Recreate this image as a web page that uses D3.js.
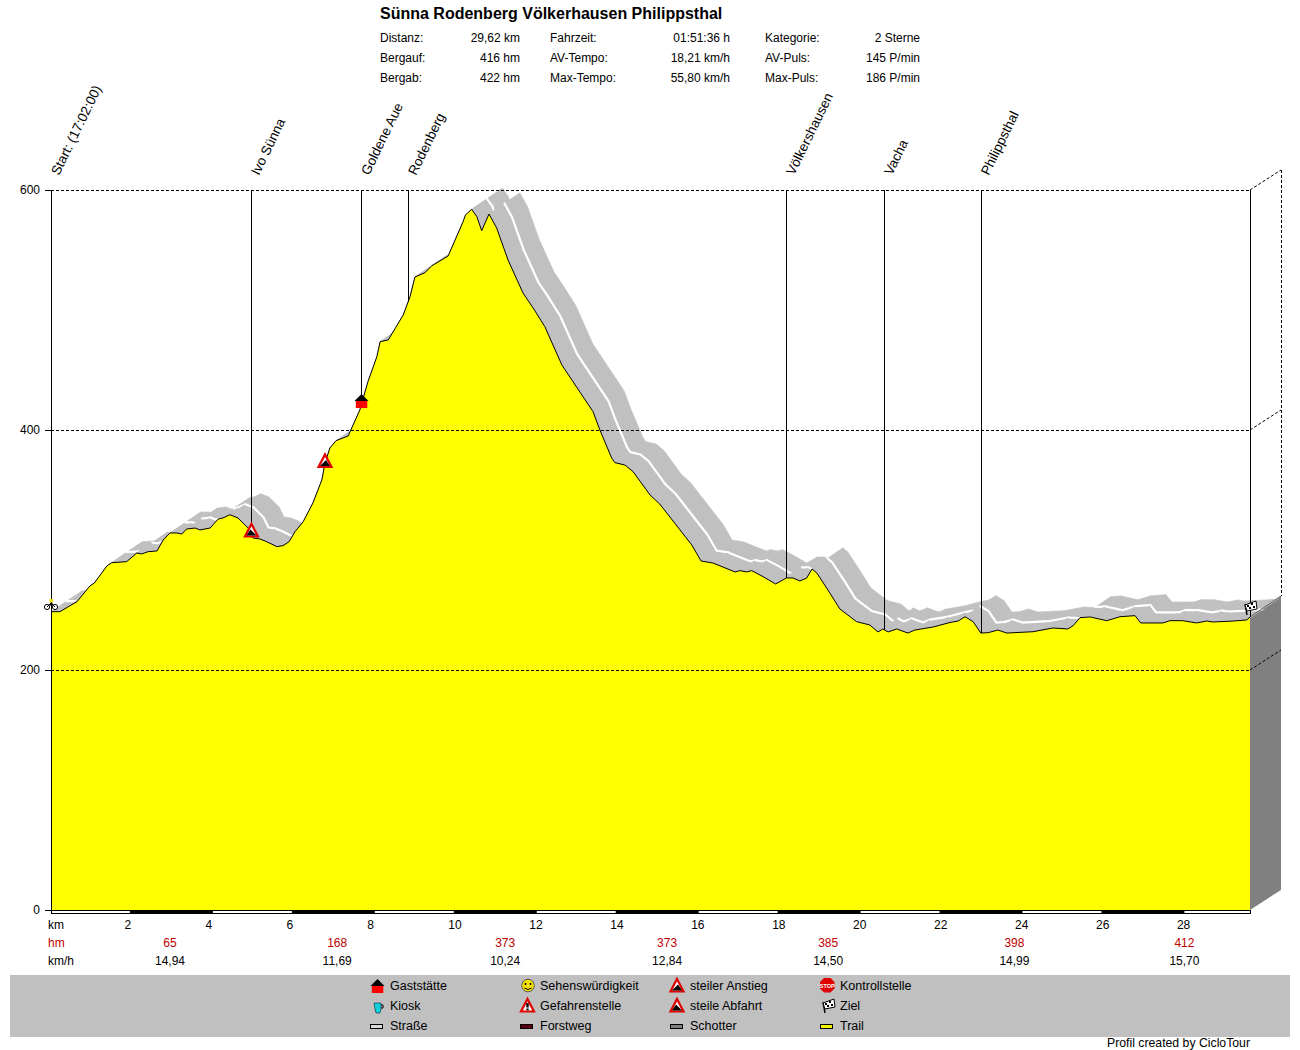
<!DOCTYPE html>
<html><head><meta charset="utf-8">
<script src="https://cdn.jsdelivr.net/npm/d3@7"></script>
<style>
html,body{margin:0;padding:0;background:#fff}
svg{display:block}
text{font-family:"Liberation Sans",Arial,sans-serif;font-size:12px;fill:#000}
</style></head><body><svg id="c" width="1300" height="1050"></svg>
<script>
const profileKm=[0,0.22,0.64,0.96,1.07,1.38,1.50,1.87,2.12,2.24,2.40,2.62,2.77,2.94,3.11,3.23,3.35,3.56,3.68,3.93,4.13,4.25,4.42,4.62,4.87,4.99,5.16,5.33,5.58,5.73,5.88,6.03,6.23,6.47,6.69,6.77,6.89,7.04,7.34,7.63,7.83,8.05,8.13,8.33,8.70,8.87,8.99,9.24,9.40,9.81,10.18,10.24,10.39,10.52,10.64,10.82,11.01,11.29,11.66,11.91,12.20,12.62,13.39,13.56,13.85,13.93,14.18,14.38,14.80,15.04,15.54,15.83,16.06,16.35,16.90,17.02,17.19,17.31,17.59,17.90,18.17,18.33,18.50,18.67,18.80,18.92,19.24,19.49,19.90,20.23,20.43,20.55,20.68,20.89,21.17,21.34,21.79,22.21,22.41,22.58,22.78,22.97,23.15,23.39,23.61,24.26,24.75,25.12,25.25,25.42,25.67,26.08,26.41,26.78,26.92,27.47,27.64,27.96,28.30,28.55,28.71,29.20,29.54,29.62];
const profileElev=[248.6,248.6,256.9,270,272.5,286.7,289.4,290.3,297.5,296.7,298.6,299.2,308.3,314.2,314.2,313.3,317.5,318.3,316.7,318.3,325.8,326.7,329.4,326.7,318.3,310,309.2,306.9,302.8,303.6,306.9,315.3,323.6,339.2,358.3,372.5,385,391.1,395,416.7,440.3,461.1,473.6,475,495.8,511.1,527.5,531.1,536.7,545,573.6,579.2,583.9,577.8,566.1,580,568.3,541.7,514.2,501.7,486.1,454.2,415.3,400,376.7,372.8,370.8,365.3,345.8,338.3,316.7,304.2,290.8,289.2,281.7,282.8,281.7,282.8,277.8,271.7,276.7,276.7,274.2,276.7,284.2,280.8,264.2,250.8,240.3,237.5,231.7,234.2,231.7,234.2,230.8,233.3,235.8,239.6,240.8,244.4,240.3,230.8,231.1,233.3,230.8,231.9,235,234.2,236.9,243.6,244.2,241.1,244.4,245.3,239.2,239.2,241.1,241.1,239.2,240.8,240,240.8,241.7,244.2];
const waypointNames=["Ivo Sünna","Goldene Aue","Rodenberg","Völkershausen","Vacha","Philippsthal"];
const waypointKm=[4.94,7.66,8.82,18.16,20.58,22.97];
const elevationTicks=[0,200,400,600];
const kmTicks=[2,4,6,8,10,12,14,16,18,20,22,24,26,28];
const bandStartKm=[1.95,5.95,9.95,13.95,17.95,21.95,25.95];
const bandEndKm=[4,8,12,16,20,24,28];
const sectionKm=[2.94,7.07,11.22,15.22,19.2,23.8,28.0];
const sectionHm=["65","168","373","373","385","398","412"];
const sectionSpeed=["14,94","11,69","10,24","12,84","14,50","14,99","15,70"];
const statLabels1=["Distanz:","Bergauf:","Bergab:"];
const statValues1=["29,62 km","416 hm","422 hm"];
const statLabels2=["Fahrzeit:","AV-Tempo:","Max-Tempo:"];
const statValues2=["01:51:36 h","18,21 km/h","55,80 km/h"];
const statLabels3=["Kategorie:","AV-Puls:","Max-Puls:"];
const statValues3=["2 Sterne","145 P/min","186 P/min"];
const legendCol1=["Gaststätte","Kiosk","Straße"];
const legendCol2=["Sehenswürdigkeit","Gefahrenstelle","Forstweg"];
const legendCol3=["steiler Anstieg","steile Abfahrt","Schotter"];
const legendCol4=["Kontrollstelle","Ziel","Trail"];

const svg=d3.select("#c");
const x=d3.scaleLinear().domain([0,29.62]).range([51,1250]);
const y=d3.scaleLinear().domain([0,600]).range([910,190]);
const DX=31,DY=-21;
const pts=profileKm.map((k,i)=>[x(k),y(profileElev[i])]);
const elevAt=k=>d3.scaleLinear().domain(profileKm).range(profileElev)(k);
const dash="3,2";

function txt(g,s,px,py,anchor,opt={}){
  const t=g.append("text").attr("x",px).attr("y",py).attr("text-anchor",anchor||"start").text(s);
  if(opt.fill)t.style("fill",opt.fill);
  if(opt.size)t.style("font-size",opt.size+"px");
  if(opt.weight)t.style("font-weight",opt.weight);
  return t;
}

// header
const head=svg.append("g");
txt(head,"Sünna Rodenberg Völkerhausen Philippsthal",380,19,"start",{size:16,weight:"bold"});
[[statLabels1,statValues1,380,520],[statLabels2,statValues2,550,730],[statLabels3,statValues3,765,920]].forEach(([l,v,a,b])=>{
  l.forEach((s,i)=>{txt(head,s,a,42+i*20);txt(head,v[i],b,42+i*20,"end");});
});

// wall
const endX=x(29.62),endY=y(profileElev[profileElev.length-1]);
svg.append("polygon").attr("fill","#808080")
  .attr("points",[[endX,endY],[endX+DX,endY+DY],[endX+DX,y(0)-20],[endX,y(0)]].join(" "));

// ribbon, one segment at a time so later parts hide earlier ones
const ribbon=svg.append("g");
const segs=d3.pairs(pts);
const seg=ribbon.selectAll("g").data(segs).join("g");
seg.append("polygon").attr("fill","#c0c0c0").attr("stroke","#c0c0c0").attr("stroke-width",0.6)
  .attr("points",([a,b])=>[a,b,[b[0]+DX,b[1]+DY],[a[0]+DX,a[1]+DY]].join(" "));
// the centre line only shows on stretches that are not climbing steeply
seg.filter(([a,b])=>(a[1]-b[1])/(b[0]-a[0])<0.5)
  .append("line").attr("stroke","#fff").attr("stroke-width",2.2).attr("stroke-linecap","round")
  .attr("x1",([a])=>a[0]+DX/2).attr("y1",([a])=>a[1]+DY/2)
  .attr("x2",([,b])=>b[0]+DX/2).attr("y2",([,b])=>b[1]+DY/2);

// profile
const area=d3.area().x(d=>d[0]).y0(y(0)).y1(d=>d[1]);
svg.append("path").attr("d",area(pts)).attr("fill","#ffff00");
svg.append("path").attr("d",d3.line()(pts)).attr("fill","none").attr("stroke","#000").attr("stroke-width",1);

// grid and 3D edges
const grid=svg.append("g").attr("stroke","#000").attr("stroke-dasharray",dash).attr("shape-rendering","crispEdges");
elevationTicks.filter(v=>v>0).forEach(v=>{
  grid.append("line").attr("x1",51).attr("x2",endX).attr("y1",y(v)).attr("y2",y(v));
});
const diag=svg.append("g").attr("stroke","#000").attr("stroke-dasharray",dash);
elevationTicks.filter(v=>v>0).forEach(v=>{
  diag.append("line").attr("x1",endX).attr("y1",y(v)).attr("x2",endX+DX).attr("y2",y(v)-20);
});
grid.append("line").attr("x1",endX+DX).attr("x2",endX+DX).attr("y1",y(600)-20).attr("y2",endY+DY);
svg.append("line").attr("x1",endX).attr("y1",endY).attr("x2",endX+DX).attr("y2",endY+DY).attr("stroke","#333").attr("stroke-width",0.7);

// y axis
const yAxis=svg.append("g").attr("transform","translate(51,0)")
  .call(d3.axisLeft(y).tickValues(elevationTicks).tickSize(6).tickPadding(5).tickFormat(d3.format("d")));
yAxis.select(".domain").remove();
yAxis.selectAll("line").attr("stroke","#000").attr("shape-rendering","crispEdges");
yAxis.selectAll("text").style("font-size","12px").style("font-family",'"Liberation Sans",Arial,sans-serif');

// vertical lines
const v=svg.append("g").attr("stroke","#000").attr("shape-rendering","crispEdges");
v.append("line").attr("x1",51).attr("x2",51).attr("y1",y(600)).attr("y2",y(0));
v.append("line").attr("x1",endX).attr("x2",endX).attr("y1",y(600)).attr("y2",endY);
waypointKm.forEach(k=>{
  v.append("line").attr("x1",Math.round(x(k))).attr("x2",Math.round(x(k))).attr("y1",y(600)).attr("y2",y(elevAt(k)));
});

// rotated labels
const rot=(s,px)=>svg.append("text").attr("transform",`translate(${px+8},176) rotate(-64)`).style("font-size","13.5px").text(s);
rot("Start: (17:02:00)",x(0));
waypointNames.forEach((s,i)=>rot(s,x(waypointKm[i])));

// km bar
svg.append("rect").attr("x",51).attr("y",910.5).attr("width",endX-51).attr("height",3).attr("fill","#fff").attr("stroke","#000").attr("shape-rendering","crispEdges");
svg.append("g").selectAll("rect").data(bandStartKm).join("rect")
  .attr("x",d=>x(d)).attr("width",(d,i)=>x(bandEndKm[i])-x(d)).attr("y",910).attr("height",4).attr("fill","#000");

// x axis labels
const xAxis=svg.append("g").attr("transform","translate(0,914)")
  .call(d3.axisBottom(x).tickValues(kmTicks).tickSize(0).tickPadding(0).tickFormat(d3.format("d")));
xAxis.select(".domain").remove();
xAxis.selectAll("text").attr("text-anchor","start").attr("x",-8).attr("dy",null).attr("y",15)
  .style("font-size","12px").style("font-family",'"Liberation Sans",Arial,sans-serif');
txt(svg,"km",48,929);
txt(svg,"hm",48,947,"start",{fill:"#c00000"});
txt(svg,"km/h",48,965);
sectionKm.forEach((k,i)=>{
  txt(svg,sectionHm[i],x(k),947,"middle",{fill:"#c00000"});
  txt(svg,sectionSpeed[i],x(k),965,"middle");
});

// icons
function warnTri(g,cx,cy,kind){
  const h=g.append("g").attr("transform",`translate(${cx},${cy})`);
  h.append("path").attr("d","M0,-6.5L6.5,6L-6.5,6Z").attr("fill","#fff").attr("stroke","#e00000").attr("stroke-width",2.2);
  if(kind==="up") h.append("path").attr("d","M-5,5L1,-1L5,5Z").attr("fill","#000");
  if(kind==="down") h.append("path").attr("d","M-5,5L-1,-1L5,5Z").attr("fill","#000");
  if(kind==="bang"){h.append("rect").attr("x",-1.2).attr("y",-2.5).attr("width",2.4).attr("height",4.5).attr("fill","#000");
    h.append("rect").attr("x",-1.2).attr("y",3).attr("width",2.4).attr("height",1.8).attr("fill","#000");}
}
function house(g,cx,cy){
  const h=g.append("g").attr("transform",`translate(${cx},${cy})`);
  h.append("path").attr("d","M0,-7L7,0L-7,0Z").attr("fill","#000");
  h.append("rect").attr("x",-5.7).attr("y",0).attr("width",11.5).attr("height",7).attr("fill","#ff0000");
}
function flag(g,cx,cy){
  const h=g.append("g").attr("transform",`translate(${cx},${cy})`);
  h.append("path").attr("d","M-5,-4L-3,7").attr("stroke","#000").attr("stroke-width",1.4);
  h.append("path").attr("d","M-5,-3L6,-7L7,1L-3,3Z").attr("fill","#fff").attr("stroke","#000");
  [[-3,-3],[1,-5],[-1,-1],[3,-2]].forEach(p=>h.append("rect").attr("x",p[0]).attr("y",p[1]).attr("width",2).attr("height",2).attr("fill","#000"));
}
function bike(g,cx,cy){
  const h=g.append("g").attr("transform",`translate(${cx},${cy})`);
  [-4,4].forEach(d=>h.append("circle").attr("cx",d).attr("cy",1).attr("r",2.6).attr("fill","#fff").attr("stroke","#000"));
  h.append("path").attr("d","M-4,1L0,-3L4,1").attr("fill","none").attr("stroke","#000");
  h.append("rect").attr("x",-1).attr("y",-3.5).attr("width",2.5).attr("height",3).attr("fill","#000");
  h.append("rect").attr("x",-1.5).attr("y",-7).attr("width",3.5).attr("height",3.5).attr("fill","#e8e000");
}
warnTri(svg,x(4.94)+0.5,530.5,"down");
warnTri(svg,325,461,"up");
house(svg,361.5,401);
bike(svg,51,606);
flag(svg,1250,608);

// legend
const lg=svg.append("g");
lg.append("rect").attr("x",10).attr("y",975).attr("width",1280).attr("height",62).attr("fill","#c0c0c0");
[[legendCol1,390],[legendCol2,540],[legendCol3,690],[legendCol4,840]].forEach(([c,px])=>{
  c.forEach((s,i)=>txt(lg,s,px,990+i*20,"start",{size:12.5}));
});
house(lg,377.5,986);
lg.append("path").attr("d","M374,1003H381V1009L380,1013H376L375,1009Z").attr("fill","#10d0e0").attr("stroke","#000").attr("stroke-width",0.5);
lg.append("path").attr("d","M381,1005H383V1008H381").attr("fill","none").attr("stroke","#000");
lg.append("circle").attr("cx",528).attr("cy",985.5).attr("r",6.3).attr("fill","#f0e000").attr("stroke","#555");
lg.append("circle").attr("cx",525.5).attr("cy",984).attr("r",1).attr("fill","#000");
lg.append("circle").attr("cx",530.5).attr("cy",984).attr("r",1).attr("fill","#000");
lg.append("path").attr("d","M524.5,988Q528,991 531.5,988").attr("fill","none").attr("stroke","#000");
warnTri(lg,527.5,1005.5,"bang");
warnTri(lg,677,985.5,"up");
warnTri(lg,677,1005.5,"down");
lg.append("path").attr("d","M824,978H830.5L834.5,982V988.5L830.5,992.5H824L820,988.5V982Z").attr("fill","#e00000");
txt(lg,"STOP",827.3,987.5,"middle",{fill:"#fff",size:5.5,weight:"bold"});
flag(lg,828,1006);
const swatch=[[370,"#d8d8d8"],[520,"#5c0010"],[670,"#808080"],[820,"#f4f000"]];
lg.selectAll("rect.s").data(swatch).join("rect").attr("class","s")
  .attr("x",d=>d[0]+0.5).attr("y",1024.5).attr("width",12).attr("height",4).attr("fill",d=>d[1]).attr("stroke","#000").attr("shape-rendering","crispEdges");
txt(svg,"Profil created by CicloTour",1250,1047,"end",{size:12.25});
</script>
</body></html>
